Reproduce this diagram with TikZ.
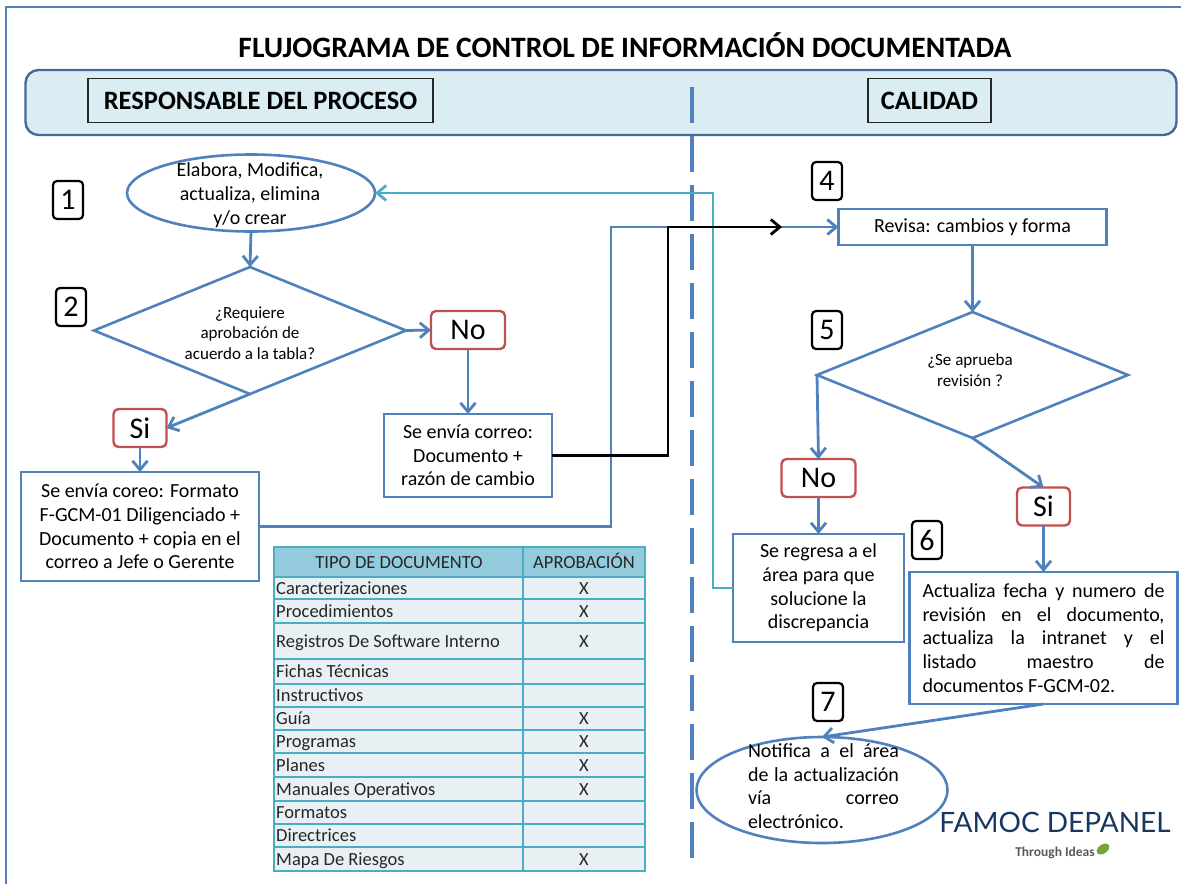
\documentclass[tikz,border=0pt]{standalone}
\usepackage{fontspec}
\setmainfont{Carlito}
\newfontfamily\logofont{Lato}
\usepackage{tikz}
\usetikzlibrary{positioning,arrows.meta,shapes.geometric}
\definecolor{flowblue}{HTML}{4F81BD}
\definecolor{bandblue}{HTML}{DAEDF3}
\definecolor{bandline}{HTML}{44699A}
\definecolor{tealline}{HTML}{4BACC6}
\definecolor{noired}{HTML}{C0504D}
\definecolor{tablehead}{HTML}{93CBDC}
\definecolor{tablerow}{HTML}{E9F0F4}
\definecolor{logoblue}{HTML}{17375E}
\definecolor{leafgreen}{HTML}{76A33C}
\newcommand{\bodysize}{\fontsize{20}{23.7}\selectfont}
\newcommand{\smallsize}{\fontsize{17}{20.5}\selectfont}
\newcommand{\bigsize}{\fontsize{30}{32}\selectfont}
\newcommand{\headsize}{\fontsize{26.5}{30}\selectfont\bfseries}
\newcommand{\cellsize}{\fontsize{18.5}{21}\selectfont}
\tikzset{
  flow/.style={draw=flowblue, line width=2.8pt, -{Straight Barb[length=9pt,width=15pt,line width=2.8pt]}},
  back/.style={draw=tealline, line width=2.8pt, -{Straight Barb[length=9pt,width=15pt,line width=2.8pt]}},
  sendline/.style={draw=black, line width=2.8pt, -{Straight Barb[length=9pt,width=15pt,line width=2.8pt]}},
  flowbox/.style={draw=flowblue, line width=2.6pt, fill=white, inner sep=0pt, outer sep=0pt, align=center, font=\bodysize},
  oval/.style={ellipse, draw=flowblue, line width=2.6pt, fill=white, inner sep=0pt, outer sep=0pt},
  choice/.style={diamond, draw=flowblue, line width=2.6pt, fill=white, inner sep=0pt, outer sep=0pt},
  answer/.style={rounded corners=5pt, draw=noired, line width=2.4pt, fill=white, inner sep=0pt, outer sep=0pt, font=\bigsize},
  stepnum/.style={rounded corners=4pt, draw=black, line width=2.2pt, fill=white, inner sep=0pt, outer sep=0pt, minimum width=30pt, minimum height=38pt, font=\bigsize},
  headbox/.style={draw=black!85, line width=1.1pt, inner sep=0pt, minimum height=44pt, font=\headsize},
  cell/.style={inner sep=0pt, text height=12pt, text depth=0pt, font=\cellsize, text=black!85}
}
\begin{document}
\begin{tikzpicture}[x=1pt,y=-1pt]
  \useasboundingbox (0,0) rectangle (1181,884);
  \draw[flowblue, line width=1.6pt] (6,884) -- (6,7) -- (1181,7);
  \node[inner sep=0pt, font=\fontsize{29.6}{32}\selectfont\bfseries] (title) at (625,45) {FLUJOGRAMA DE CONTROL DE INFORMACIÓN DOCUMENTADA};
  \node[draw=bandline, fill=bandblue, line width=2.4pt, rounded corners=13pt, minimum width=1151pt, minimum height=65pt, inner sep=0pt] (band) at (601,102.5) {};
  \node[headbox, minimum width=345pt] (responsable) at (260.5,100.5) {RESPONSABLE DEL PROCESO};
  \node[headbox, minimum width=123pt] (calidad) at (929.5,100.5) {CALIDAD};
  \draw[flowblue, line width=4pt, dash pattern=on 36pt off 13pt] (692,87) -- (692,870);

  \foreach \numb/\cx/\cy in {1/68/200, 2/71/307, 4/827/181, 5/827/330, 6/927/540, 7/828/702}
    \node[stepnum] (num\numb) at (\cx,\cy) {\numb};

  \node[oval, minimum width=248pt, minimum height=77pt] (elabora) at (251,193) {};
  \node[align=center, inner sep=0pt, font=\bodysize] (elaboratext) at (250,195) {Elabora, Modifica,\\actualiza, elimina\\y/o crear};
  \node[choice, minimum width=312pt, minimum height=127pt] (requiere) at (250,330.5) {};
  \node[align=center, inner sep=0pt, font=\smallsize] (requieretext) at (250,333) {¿Requiere\\aprobación de\\acuerdo a la tabla?};
  \node[answer, minimum width=74pt, minimum height=38pt] (nouno) at (468,330) {No};
  \node[answer, minimum width=53pt, minimum height=38pt] (siuno) at (140,428) {Si};
  \node[flowbox, minimum width=238pt, minimum height=109pt] (formato) at (140,526.5) {Se envía coreo: Formato\\F-GCM-01 Diligenciado +\\Documento + copia en el\\correo a Jefe o Gerente};
  \node[flowbox, minimum width=168pt, minimum height=83pt] (correo) at (468,455.5) {Se envía correo:\\Documento +\\razón de cambio};

  \node[flowbox, minimum width=268pt, minimum height=36pt] (revisa) at (972.5,227) {Revisa: cambios y forma};
  \node[choice, minimum width=311pt, minimum height=126pt] (aprueba) at (972.5,375) {};
  \node[align=center, inner sep=0pt, font=\smallsize] (apruebatext) at (970,370) {¿Se aprueba\\revisión ?};
  \node[answer, minimum width=74pt, minimum height=38pt] (nodos) at (818.5,478) {No};
  \node[answer, minimum width=53pt, minimum height=38pt] (sidos) at (1043.5,506.5) {Si};
  \node[flowbox, minimum width=171pt, minimum height=108pt] (regresa) at (818.5,588) {Se regresa a el\\área para que\\solucione la\\discrepancia};
  \node[flowbox, minimum width=268pt, minimum height=132pt] (actualiza) at (1043.5,638) {\parbox{242pt}{\bodysize\emergencystretch=3em Actualiza fecha y numero de\linebreak revisión en el documento,\linebreak actualiza la intranet y el\linebreak listado maestro de\linebreak documentos F-GCM-02.}};
  \node[oval, minimum width=251pt, minimum height=106pt] (notifica) at (822,790) {};
  \node[inner sep=0pt, font=\bodysize] (notificatext) at (823.5,786) {\parbox{151pt}{\emergencystretch=3em Notifica a el área\linebreak de la actualización\linebreak vía correo\linebreak electrónico.}};

  \coordinate (codoazul) at (611,227);
  \coordinate (codonegro) at (668,227);
  \coordinate (puntanegra) at (782,227);
  \coordinate (retorno) at (713,193);
  \draw[flow] (elabora.south) -- (requiere.north);
  \draw[flow] (requiere.east) -- (nouno.west);
  \draw[flow] (requiere.south) -- (siuno.east);
  \draw[flow] (siuno.south) -- (formato.north);
  \draw[flow] (nouno.south) -- (correo.north);
  \draw[flow] (formato.east) -| (codoazul) -- (revisa.west);
  \draw[back] (regresa.west) -| (retorno) -- (elabora.east);
  \draw[sendline] (correo.east) -| (codonegro) -- (puntanegra);
  \draw[flow] (revisa.south) -- (aprueba.north);
  \draw[flow] (aprueba.west) -- (nodos.north);
  \draw[flow] (aprueba.south) -- (sidos.north);
  \draw[flow] (nodos.south) -- (regresa.north);
  \draw[flow] (sidos.south) -- (actualiza.north);
  \draw[flow] (actualiza.south) -- (notifica.north);

  \fill[tablehead] (274,547) rectangle (645,577);
  \fill[tablerow] (274,577) rectangle (645,871);
  \node[cell] (tipohead) at (399,562) {TIPO DE DOCUMENTO};
  \node[cell] (aprobhead) at (584,562) {APROBACIÓN};
  \foreach \ya/\yb/\doc/\apr in {577/599/Caracterizaciones/X, 599/623/Procedimientos/X, 623/659/Registros De Software Interno/X, 659/684/Fichas Técnicas/, 684/707/Instructivos/, 707/730/Guía/X, 730/753/Programas/X, 753/777/Planes/X, 777/801/Manuales Operativos/X, 801/824/Formatos/, 824/847/Directrices/, 847/871/Mapa De Riesgos/X} {
    \node[cell, anchor=west] (doc\ya) at (276,{(\ya+\yb)/2}) {\doc};
    \node[cell] (apr\ya) at (584,{(\ya+\yb)/2}) {\apr};
    \draw[tealline, line width=1.3pt] (274,\yb) -- (645,\yb);
  }
  \draw[tealline, line width=1.3pt] (274,547) rectangle (645,871) (274,577) -- (645,577) (523,547) -- (523,871);

  \node[inner sep=0pt, text=logoblue, font=\fontsize{28}{30}\logofont\selectfont] (famoc) at (1055,822) {FAMOC DEPANEL};
  \node[inner sep=0pt, text=black!65, font=\fontsize{13.5}{15}\selectfont\bfseries] (through) at (1055,853) {Through Ideas};
  \fill[leafgreen, rotate around={35:(1103,849)}] (1103,849) ellipse (7pt and 4.5pt);
\end{tikzpicture}
\end{document}
